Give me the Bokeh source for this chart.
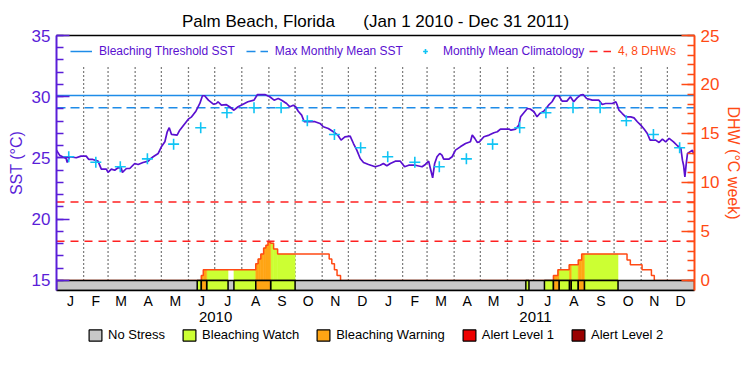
import datetime as dt
from bokeh.plotting import figure
from bokeh.layouts import column
from bokeh.models import (Range1d, LinearAxis, FixedTicker, Legend, LegendItem,
                          ColumnDataSource)
from bokeh.embed import file_html
from bokeh.resources import INLINE

# ---------------- data ----------------
# daily SST, day 0 = Jan 1 2010
sst_day = [0, 3.5, 11, 12.3, 15, 22.6, 28, 34, 37, 41.6, 47.5, 51.3, 57, 59, 62.8, 66.6,
           70.4, 74, 75.4, 80, 83.8, 89.5, 93.4, 99, 105, 107, 110.6, 116.4, 120, 124,
           126.7, 129, 131.6, 138, 141, 147, 150.8, 154.6, 159.5, 164, 167, 169.5, 173.8,
           179.5, 183, 184.8, 188.7, 194.4, 198, 203, 207.8, 213.5, 219, 226, 230, 238.4,
           244, 249, 253.7, 257.6, 263.3, 267, 271, 273.6, 276.6, 280.5, 283.5, 295.8,
           301.5, 305.3, 311, 316.8, 321.8, 325.6, 330, 336, 339.8, 343.6, 347.5, 351.3,
           357, 364.7, 370.4, 374, 378, 382, 387.6, 393.4, 398.3, 403, 410.6, 418.3, 422,
           425.8, 427.8, 430.4, 432.7, 435.4, 438.5, 441, 443, 448.8, 452.7, 456.5, 462,
           468, 473.6, 475.7, 478.6, 481.4, 484, 489, 495, 500.5, 504.4, 508, 517.7, 520,
           525.4, 529, 531, 535, 538.8, 542, 546.4, 549.8, 553, 557.5, 563, 567, 571,
           574.7, 578.5, 584, 588, 591.8, 595.7, 599.5, 602.6, 606.5, 613, 620.6, 624.4,
           628.3, 636, 640, 641.6, 643.6, 647.4, 651.3, 657, 660.8, 664.6, 668.5, 672.3,
           676, 679.2, 685.6, 689.5, 693.3, 697, 701, 706, 710.5, 714.4, 716.2, 717.5, 719,
           720.8, 722, 727.7, 729]
sst_val = [25.64, 25.23, 24.96, 24.63, 25.1, 25.02, 25.15, 25.15, 24.88, 24.88, 24.74, 24.09,
           24.09, 23.82, 24.09, 24.0, 24.2, 24.2, 23.82, 24.14, 24.14, 24.55, 24.47, 24.63,
           24.74, 24.9, 25.1, 25.37, 25.91, 26.32, 27.14, 27.47, 26.92, 26.87, 27.27, 27.82,
           28.17, 28.36, 28.82, 29.45, 30.08, 30.08, 29.72, 29.39, 29.45, 29.59, 29.31, 29.35,
           29.18, 28.9, 29.18, 29.39, 29.59, 29.72, 30.18, 30.18, 30.0, 29.72, 29.86, 29.72,
           29.45, 29.18, 29.31, 29.18, 28.82, 28.5, 27.96, 27.96, 27.82, 27.55, 27.41, 27.14,
           26.87, 26.46, 26.73, 26.79, 26.18, 25.64, 24.96, 24.63, 24.47, 24.28, 24.41, 24.55,
           24.36, 24.55, 24.74, 24.74, 24.28, 24.41, 24.41, 24.28, 24.47, 24.74, 24.14, 23.38,
           24.55, 25.1, 25.37, 25.23, 24.9, 24.9, 25.1, 25.64, 25.91, 26.18, 26.32, 26.87,
           26.6, 26.27, 26.32, 26.73, 26.87, 27.06, 27.14, 27.36, 27.36, 27.27, 27.36, 27.68,
           28.36, 28.71, 29.04, 29.0, 28.77, 28.36, 28.63, 28.82, 29.31, 29.59, 30.08, 30.08,
           29.64, 29.64, 30.0, 29.59, 29.91, 30.13, 30.18, 29.86, 29.72, 29.72, 29.37, 29.45,
           29.45, 29.59, 29.31, 28.9, 28.63, 28.36, 28.36, 28.27, 27.96, 27.68, 27.36, 27.0,
           26.46, 26.46, 26.27, 26.54, 26.32, 26.6, 26.32, 26.0, 25.78, 24.82, 24.41, 23.46,
           24.7, 25.37, 25.64, 25.3]

# monthly mean climatology (Jan..Dec)
clim_val = [25.1, 24.65, 24.28, 24.93, 26.13, 27.47, 28.69, 29.1, 29.1, 28.04, 26.92, 25.83]
mmm = 29.1
threshold = 30.1
dhw_lines = [4, 8]

# degree heating weeks (step after)
dhw_day = [0, 165.7, 168, 228, 230.7, 233.8, 237, 239.6, 242, 245, 248.4, 253, 312, 315,
           318, 321, 325, 568.6, 573.7, 586.6, 597, 600.9, 652.8, 656.6, 670, 680.7, 684, 730]
dhw_val = [0, 0.5, 1.1, 1.7, 2.2, 2.7, 3.3, 3.6, 3.9, 3.8, 3.2, 2.7, 2.2, 1.7,
           1.1, 0.5, 0, 0.5, 1.1, 1.6, 2.1, 2.7, 2.1, 1.6, 1.1, 0.5, 0, 0]

# stress level periods
alert_start = [161, 165.7, 171.8, 203, 228, 245, 537, 558.3, 568.6, 575, 587, 589, 597, 604]
alert_end = [165.7, 171.8, 196.3, 228, 245, 273, 540.6, 568.6, 575, 587, 589, 597, 604, 642.5]
alert_level = [1, 2, 1, 1, 2, 1, 1, 1, 2, 1, 2, 1, 2, 1]

month_letters = ["J", "F", "M", "A", "M", "J", "J", "A", "S", "O", "N", "D"]
year_labels = ["2010", "2011"]
level_names = ["No Stress", "Bleaching Watch", "Bleaching Warning", "Alert Level 1", "Alert Level 2"]
level_colors = ["#c8c8c8", "#ccff33", "#ffa514", "#ee0000", "#990000"]

# ---------------- calendar helpers ----------------
start = dt.date(2010, 1, 1)
month_starts = [(dt.date(y, m, 1) - start).days for y in (2010, 2011) for m in range(1, 13)] + [730]
month_mid = [(dt.date(y, m, 15) - start).days for y in (2010, 2011) for m in range(1, 13)]
month_ctr = [int(round((a + b) / 2)) for a, b in zip(month_starts[:-1], month_starts[1:])]
year_ctr = [int(round((month_starts[0] + month_starts[12]) / 2)),
            int(round((month_starts[12] + month_starts[24]) / 2))]

FONT = "Liberation Sans"
PURPLE = "#5a10d0"
AXP = "#5a1ed8"
ORANGE = "#ff4a14"
BLUE = "#1e8ce8"
CYAN = "#10c4f4"

p = figure(width=750, height=328, output_backend="svg", toolbar_location=None,
           x_range=Range1d(0, 730), y_range=Range1d(14.18, 35),
           x_axis_type=None, y_axis_type=None,
           min_border_left=56, min_border_right=56, min_border_top=35, min_border_bottom=38)
p.extra_y_ranges = {"dhw": Range1d(-1.025, 25)}
p.outline_line_color = None
p.background_fill_color = "white"

p.title.text = "Palm Beach, Florida\u00a0\u00a0\u00a0\u00a0\u00a0\u00a0(Jan 1 2010 - Dec 31 2011)"
p.title.align = "center"
p.title.text_font = FONT
p.title.text_font_size = "17px"
p.title.text_font_style = "normal"
p.title.text_color = "black"

# ---- axes ----
yl = LinearAxis(ticker=FixedTicker(ticks=[15, 20, 25, 30, 35], minor_ticks=list(range(15, 36))),
                axis_label="SST (°C)")
yr = LinearAxis(y_range_name="dhw",
                ticker=FixedTicker(ticks=[0, 5, 10, 15, 20, 25], minor_ticks=list(range(0, 26))),
                axis_label="DHW (°C week)")
for ax, col, so in ((yl, AXP, 4), (yr, ORANGE, 3)):
    ax.axis_line_color = col
    ax.axis_line_width = 2
    ax.major_tick_line_color = col
    ax.minor_tick_line_color = col
    ax.major_tick_line_width = 1.5
    ax.minor_tick_line_width = 1.5
    ax.major_tick_in = 13
    ax.major_tick_out = 0
    ax.minor_tick_in = 7
    ax.minor_tick_out = 0
    ax.major_label_text_color = col
    ax.major_label_text_font = FONT
    ax.major_label_text_font_size = "17px"
    ax.major_label_standoff = 6
    ax.axis_label_text_color = col
    ax.axis_label_text_font = FONT
    ax.axis_label_text_font_size = "16px"
    ax.axis_label_text_font_style = "normal"
    ax.axis_label_standoff = so
p.add_layout(yl, "left")
p.add_layout(yr, "right")


def plain_axis(ax):
    ax.major_tick_line_color = None
    ax.minor_tick_line_color = None
    ax.major_tick_in = 0
    ax.major_tick_out = 0
    ax.minor_tick_in = 0
    ax.minor_tick_out = 0
    ax.major_label_text_font = FONT
    ax.major_label_text_color = "black"


xm = LinearAxis(ticker=FixedTicker(ticks=month_ctr),
                major_label_overrides={c: month_letters[i % 12] for i, c in enumerate(month_ctr)})
plain_axis(xm)
xm.axis_line_color = "black"
xm.axis_line_width = 1.5
xm.major_label_text_font_size = "14px"
xm.major_label_standoff = 2
p.add_layout(xm, "below")

xy = LinearAxis(ticker=FixedTicker(ticks=year_ctr),
                major_label_overrides={c: year_labels[i] for i, c in enumerate(year_ctr)})
plain_axis(xy)
xy.axis_line_color = None
xy.major_label_text_font_size = "15px"
xy.major_label_standoff = 0
p.add_layout(xy, "below")

xt = LinearAxis(ticker=FixedTicker(ticks=[]))
plain_axis(xt)
xt.axis_line_color = "black"
xt.axis_line_width = 1.5
xt.major_label_text_font_size = "0px"
p.add_layout(xt, "above")

# ---- month separators ----
p.segment(x0=month_starts[1:-1], y0=15, x1=month_starts[1:-1], y1=32.55,
          line_color="black", line_width=1.3, line_dash="1 3")

# ---- DHW fill coloured by stress level ----
fill = {lvl: dict(left=[], right=[], top=[]) for lvl in (1, 2, 3, 4)}
for a, b, lvl in zip(alert_start, alert_end, alert_level):
    for i in range(len(dhw_day) - 1):
        lo, hi = max(a, dhw_day[i]), min(b, dhw_day[i + 1])
        if hi > lo and dhw_val[i] > 0:
            fill[lvl]["left"].append(lo)
            fill[lvl]["right"].append(hi)
            fill[lvl]["top"].append(dhw_val[i])
for lvl in (1, 2):
    d = fill[lvl]
    p.quad(left=d["left"], right=d["right"], top=d["top"], bottom=0, y_range_name="dhw",
           fill_color=level_colors[lvl], line_color=level_colors[lvl], line_width=0.5)

p.step(dhw_day, dhw_val, mode="after", y_range_name="dhw", line_color=ORANGE, line_width=1.5)

# ---- stress bar ----
p.quad(left=[0], right=[730], top=[0], bottom=[-1.025], y_range_name="dhw",
       fill_color=level_colors[0], line_color="black", line_width=1.5)
for lvl in (1, 2, 3, 4):
    sel = [(a, b) for a, b, l in zip(alert_start, alert_end, alert_level) if l == lvl]
    src = ColumnDataSource(dict(left=[s[0] for s in sel], right=[s[1] for s in sel]))
    p.quad(left="left", right="right", top=0, bottom=-1.025, source=src, y_range_name="dhw",
           fill_color=level_colors[lvl], line_color="black", line_width=1.5)

# ---- reference lines ----
dhw_rs = []
for lv in dhw_lines:
    dhw_rs.append(p.line(x=[0, 730], y=[lv, lv], y_range_name="dhw", line_color="#ff2020",
                         line_width=1.5, line_dash="8 6"))
mmm_r = p.line(x=[0, 730], y=[mmm, mmm], line_color=BLUE, line_width=1.5, line_dash="9 5")
thr_r = p.line(x=[0, 730], y=[threshold, threshold], line_color=BLUE, line_width=1.5)

# ---- SST and climatology ----
p.line(sst_day, sst_val, line_color=PURPLE, line_width=1.7)
clim_r = p.scatter(x=month_mid, y=clim_val * 2, marker="cross", size=11, line_width=1.6,
                   line_color=CYAN)

# ---- top legends ----
leg1 = Legend(items=[LegendItem(label="Bleaching Threshold SST", renderers=[thr_r]),
                     LegendItem(label="Max Monthly Mean SST", renderers=[mmm_r]),
                     LegendItem(label="Monthly Mean Climatology", renderers=[clim_r])],
              orientation="horizontal", location=(14, 232))
leg2 = Legend(items=[LegendItem(label="4, 8 DHWs", renderers=[dhw_rs[0]])],
              orientation="horizontal", location=(533, 232))
for lg, tc in ((leg1, PURPLE), (leg2, ORANGE)):
    lg.label_text_color = tc
    lg.label_text_font = FONT
    lg.label_text_font_size = "12px"
    lg.glyph_width = 22
    lg.glyph_height = 12
    lg.label_height = 12
    lg.label_standoff = 7
    lg.spacing = 11
    lg.padding = 0
    lg.margin = 0
    lg.border_line_color = None
    lg.background_fill_alpha = 0
    p.add_layout(lg, "center")

# ---- bottom legend (stress levels) in its own strip ----
p2 = figure(width=750, height=47, output_backend="svg", toolbar_location=None,
            x_range=Range1d(0, 1), y_range=Range1d(0, 1),
            x_axis_type=None, y_axis_type=None,
            min_border_left=0, min_border_right=0, min_border_top=0, min_border_bottom=0)
p2.outline_line_color = None
key_renderers = []
for col in level_colors:
    r = p2.quad(left=[0], right=[1], top=[1], bottom=[0], fill_color=col,
                line_color="black", line_width=1.2)
    r.visible = False
    key_renderers.append(r)
leg3 = Legend(items=[LegendItem(label=n, renderers=[r]) for n, r in zip(level_names, key_renderers)],
              orientation="horizontal", location=(31, 33))
leg3.label_text_font = FONT
leg3.label_text_font_size = "13px"
leg3.label_text_color = "black"
leg3.glyph_width = 16
leg3.glyph_height = 14
leg3.label_height = 14
leg3.label_standoff = 5
leg3.spacing = 16
leg3.padding = 0
leg3.margin = 0
leg3.inactive_fill_alpha = 0
leg3.border_line_color = None
leg3.background_fill_alpha = 0
p2.add_layout(leg3, "center")

layout = column(p, p2, spacing=0)
open("out.html", "w").write(file_html(layout, INLINE))
